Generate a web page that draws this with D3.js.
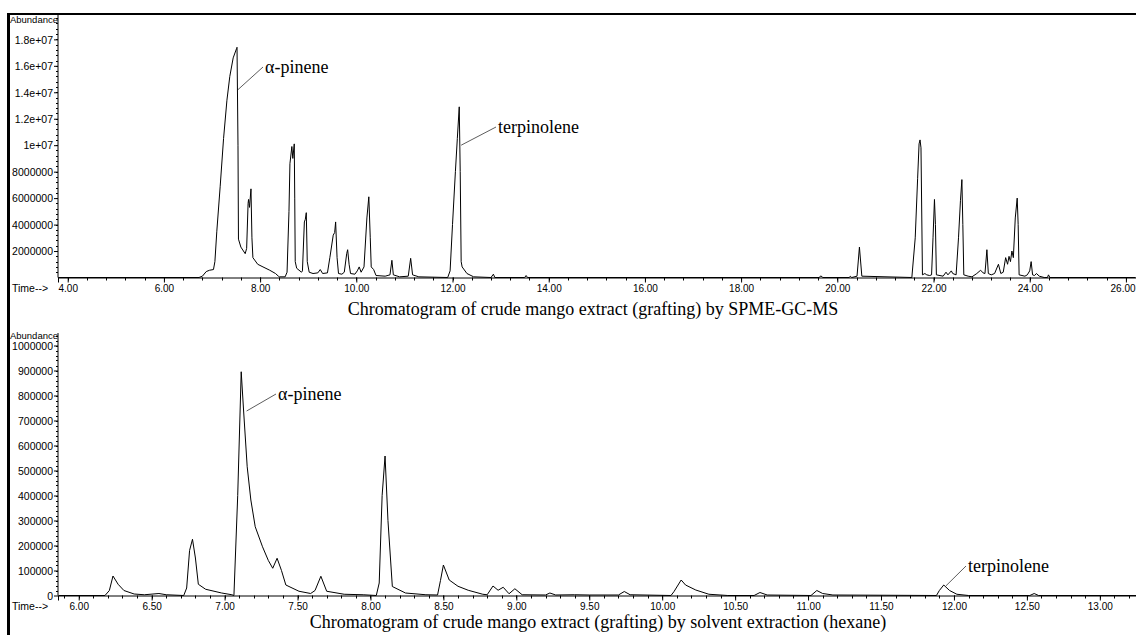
<!DOCTYPE html>
<html>
<head>
<meta charset="utf-8">
<script src="https://cdn.jsdelivr.net/npm/d3@7"></script>
<style>
    body { margin: 0; background: #fff; }
    svg { display: block; }
    .tick-label { font-family: "Liberation Sans", Arial, sans-serif; font-size: 10.5px; fill: #000; }
    .x-label { font-size: 10px; }
    .small-label { font-family: "Liberation Sans", Arial, sans-serif; font-size: 9.5px; fill: #000; }
    .peak-label { font-family: "Liberation Serif", "Times New Roman", serif; font-size: 18px; fill: #000; }
    .title { font-family: "Liberation Serif", "Times New Roman", serif; font-size: 18px; fill: #000; }
</style>
</head>
<body>
<svg id="chart" width="1136" height="635"></svg>
<script>
//SPME-GC-MS run (time in min, abundance)
var spme_time = [3.80, 6.73, 6.80, 6.88, 6.95, 7.03, 7.06, 7.10, 7.17, 7.24, 7.31, 7.37, 7.44, 7.51, 7.52, 7.54, 7.55, 7.60, 7.69, 7.72,
    7.75, 7.76, 7.78, 7.81, 7.83, 7.85, 7.95, 8.06, 8.20, 8.32, 8.38, 8.40, 8.52, 8.56, 8.60, 8.62, 8.66, 8.68, 8.71, 8.72,
    8.73, 8.76, 8.86, 8.88, 8.92, 8.94, 8.96, 8.98, 9.02, 9.10, 9.20, 9.25, 9.30, 9.40, 9.45, 9.52, 9.55, 9.57, 9.60, 9.63,
    9.70, 9.75, 9.80, 9.82, 9.85, 9.88, 9.97, 10.02, 10.06, 10.10, 10.16, 10.22, 10.26, 10.29, 10.31, 10.36, 10.41, 10.60, 10.70, 10.74,
    10.77, 10.90, 11.08, 11.13, 11.17, 11.30, 11.90, 11.95, 12.00, 12.06, 12.10, 12.14, 12.16, 12.18, 12.20, 12.30, 12.44, 12.80, 12.85, 12.88,
    13.50, 13.53, 13.56, 19.62, 19.66, 19.70, 20.25, 20.27, 20.30, 20.41, 20.46, 20.51, 21.55, 21.62, 21.67, 21.70, 21.72, 21.74, 21.77, 21.82,
    21.86, 21.92, 21.96, 21.99, 22.02, 22.04, 22.06, 22.20, 22.26, 22.30, 22.37, 22.40, 22.47, 22.52, 22.56, 22.59, 22.61, 22.63, 22.72, 22.80,
    22.90, 22.98, 23.03, 23.07, 23.11, 23.14, 23.20, 23.27, 23.35, 23.40, 23.45, 23.50, 23.54, 23.57, 23.60, 23.63, 23.66, 23.70, 23.74, 23.76,
    23.78, 23.90, 23.95, 24.00, 24.03, 24.06, 24.10, 24.14, 24.20, 24.30, 24.37, 24.39, 24.42, 26.20];
var spme_abundance = [0, 0, 100000, 450000, 550000, 600000, 1200000, 3500000, 6900000, 10500000, 13400000, 15200000, 16600000, 17300000, 17400000, 10000000, 2900000, 2300000, 1800000, 2200000,
    5600000, 5900000, 5300000, 6700000, 3000000, 1500000, 1000000, 800000, 550000, 300000, 100000, 50000, 50000, 400000, 5000000, 8600000, 9900000, 9000000, 10100000, 6000000,
    1200000, 700000, 400000, 500000, 4200000, 4400000, 4900000, 1200000, 400000, 300000, 350000, 600000, 300000, 350000, 1500000, 3200000, 3400000, 4200000, 1500000, 300000,
    250000, 400000, 1800000, 2100000, 1000000, 300000, 250000, 500000, 800000, 400000, 800000, 4500000, 6100000, 3000000, 800000, 600000, 150000, 100000, 200000, 1300000,
    200000, 50000, 100000, 1450000, 200000, 50000, 0, 500000, 4000000, 8000000, 10500000, 12900000, 8000000, 1200000, 800000, 300000, 50000, 0, 250000, 0,
    0, 150000, 0, 0, 120000, 0, 0, 100000, 0, 100000, 2300000, 100000, 0, 3000000, 7500000, 10100000, 10400000, 9800000, 200000, 300000,
    200000, 150000, 200000, 3000000, 5900000, 4000000, 200000, 100000, 400000, 200000, 500000, 300000, 200000, 3000000, 5800000, 7400000, 4000000, 200000, 100000, 50000,
    300000, 550000, 350000, 300000, 2100000, 300000, 200000, 300000, 1000000, 300000, 400000, 1500000, 1000000, 1600000, 1200000, 2000000, 1500000, 4500000, 6000000, 4000000,
    200000, 100000, 200000, 500000, 1200000, 200000, 150000, 300000, 100000, 0, 0, 200000, 0, 0];

//Solvent extraction run (hexane)
var hexane_time = [5.86, 6.18, 6.21, 6.235, 6.27, 6.31, 6.38, 6.45, 6.55, 6.60, 6.72, 6.74, 6.76, 6.78, 6.80, 6.82, 6.87, 6.98, 7.05, 7.064,
    7.09, 7.114, 7.13, 7.155, 7.18, 7.21, 7.26, 7.30, 7.33, 7.36, 7.39, 7.42, 7.51, 7.59, 7.62, 7.66, 7.70, 7.82, 7.95, 8.04,
    8.06, 8.08, 8.10, 8.12, 8.15, 8.24, 8.38, 8.46, 8.48, 8.50, 8.54, 8.60, 8.67, 8.77, 8.80, 8.84, 8.875, 8.91, 8.95, 8.99,
    9.04, 9.20, 9.23, 9.27, 9.40, 9.50, 9.70, 9.74, 9.78, 10.06, 10.08, 10.13, 10.16, 10.23, 10.32, 10.45, 10.63, 10.67, 10.72, 11.02,
    11.06, 11.10, 11.17, 11.88, 11.90, 11.93, 11.97, 12.02, 12.10, 12.52, 12.55, 12.58, 13.25];
var hexane_abundance = [0, 0, 20000, 78000, 45000, 20000, 6000, 3000, 8000, 3000, 0, 30000, 180000, 225000, 150000, 45000, 25000, 10000, 3000, 0,
    400000, 895000, 742000, 515000, 382000, 275000, 195000, 140000, 109000, 149000, 100000, 42000, 17000, 8000, 20000, 77000, 17000, 5000, 3000, 0,
    50000, 400000, 558000, 300000, 36000, 10000, 3000, 2000, 60000, 122000, 62000, 37000, 21000, 5000, 3000, 38000, 21000, 33000, 7000, 27000,
    3000, 2000, 10000, 2000, 3000, 2000, 2000, 16000, 3000, 0, 15000, 62000, 42000, 22000, 5000, 0, 0, 12000, 2000, 0,
    20000, 8000, 2000, 0, 20000, 42000, 20000, 5000, 0, 0, 8000, 0, 0];

//Axes
var spme_ticks = [4, 6, 8, 10, 12, 14, 16, 18, 20, 22, 24, 26];
var spme_yticks = [2e6, 4e6, 6e6, 8e6, 1e7, 1.2e7, 1.4e7, 1.6e7, 1.8e7];
var spme_ylabels = ["2000000", "4000000", "6000000", "8000000", "1e+07", "1.2e+07", "1.4e+07", "1.6e+07", "1.8e+07"];
var hexane_ticks = [6, 6.5, 7, 7.5, 8, 8.5, 9, 9.5, 10, 10.5, 11, 11.5, 12, 12.5, 13];
var hexane_yticks = [0, 1e5, 2e5, 3e5, 4e5, 5e5, 6e5, 7e5, 8e5, 9e5, 1e6];

//Labels (t, v = point on the trace the leader points at)
var spme_peaks = [{ name: "α-pinene", t: 7.54, v: 14.2e6, tx: 265, ty: 73 }, { name: "terpinolene", t: 12.18, v: 10.0e6, tx: 498, ty: 133 }];
var hexane_peaks = [{ name: "α-pinene", t: 7.151, v: 738000, tx: 278, ty: 400 }, { name: "terpinolene", t: 11.944, v: 38000, tx: 968, ty: 572 }];
var titles = ["Chromatogram of crude mango extract (grafting) by SPME-GC-MS",
    "Chromatogram of crude mango extract (grafting) by solvent extraction (hexane)"];

var svg = d3.select("#chart");
var W = 1136;

//frame
svg.append("rect").attr("x", 7).attr("y", 13).attr("width", W - 7).attr("height", 2).attr("fill", "#000");
svg.append("rect").attr("x", 7).attr("y", 13).attr("width", 3).attr("height", 622).attr("fill", "#000");

function draw_panel(p) {
    var x = d3.scaleLinear().domain(p.xdomain).range([58, W]);
    var y = d3.scaleLinear().domain([0, p.ymax]).range([p.y0, p.y0 - p.ypx * p.ymax]);
    var g = svg.append("g");

    // y axis
    var ya = d3.axisLeft(y).tickValues(p.yticks).tickSize(4).tickPadding(1)
        .tickFormat(function (d, i) { return p.ylabels ? p.ylabels[i] : String(d); });
    var yg = g.append("g").attr("transform", "translate(58,0)").call(ya);
    yg.select(".domain").attr("d", `M0,${p.ytop}V${p.y0}`);
    yg.selectAll("text").attr("class", "tick-label").attr("font-family", null).attr("font-size", null).attr("dy", "0.36em");
    var yminor = d3.range(p.yminor, y.invert(p.ytop), p.yminor);
    g.append("g").selectAll("line").data(yminor).enter().append("line")
        .attr("x1", 56).attr("x2", 58).attr("y1", (d) => Math.round(y(d)) + 0.5).attr("y2", (d) => Math.round(y(d)) + 0.5)
        .attr("stroke", "#000");
    g.append("text").attr("class", "small-label").attr("x", 58).attr("y", p.abund_y).attr("text-anchor", "end").text("Abundance");

    // x axis
    var xa = d3.axisBottom(x).tickValues(p.xticks).tickSize(5).tickPadding(2).tickFormat(d3.format(".2f"));
    var xg = g.append("g").attr("transform", `translate(0,${p.y0})`).call(xa);
    xg.selectAll("text").attr("class", "tick-label x-label").attr("font-family", null).attr("font-size", null)
        .each(function () {
            // keep the last label inside the picture
            var b = this.getBBox();
            var tx = this.parentNode.transform.baseVal.consolidate().matrix.e;
            if (tx + b.x + b.width > W) d3.select(this).attr("x", W - (tx + b.x + b.width));
        });
    var xminor = d3.range(Math.ceil(p.xdomain[0] / p.xstep), Math.floor(p.xdomain[1] / p.xstep) + 1).map((k) => k * p.xstep);
    g.append("g").selectAll("line").data(xminor).enter().append("line")
        .attr("x1", (d) => Math.round(x(d)) + 0.5).attr("x2", (d) => Math.round(x(d)) + 0.5)
        .attr("y1", p.y0).attr("y2", p.y0 + 3).attr("stroke", "#000");
    g.append("text").attr("class", "tick-label").attr("x", 12).attr("y", p.y0 + 14).text("Time-->");

    // trace
    var pts = p.time.map((t, i) => [t, p.abundance[i]]);
    var line = d3.line().x((d) => x(d[0])).y((d) => y(d[1]));
    g.append("path").datum(pts).attr("d", line).attr("fill", "none")
        .attr("stroke", "#000").attr("stroke-width", 1).attr("stroke-linejoin", "round");

    // peak names
    p.peaks.forEach(function (d) {
        g.append("line").attr("x1", d.tx - 2).attr("y1", d.ty - 6).attr("x2", x(d.t)).attr("y2", y(d.v))
            .attr("stroke", "#333").attr("stroke-width", 0.8);
        g.append("text").attr("class", "peak-label").attr("x", d.tx).attr("y", d.ty).text(d.name);
    });

    g.append("text").attr("class", "title").attr("x", p.tcx).attr("y", p.ty).attr("text-anchor", "middle").text(p.title);
}

draw_panel({
    time: spme_time, abundance: spme_abundance, xdomain: [3.798, 26.21], xticks: spme_ticks, xstep: 0.4,
    y0: 277.5, ypx: 26.46 / 2e6, ymax: 1.8e7 + 25 * 2e6 / 26.46, ytop: 15, abund_y: 23, yticks: spme_yticks, ylabels: spme_ylabels, yminor: 4e5,
    peaks: spme_peaks, title: titles[0], tcx: 593, ty: 315
});
draw_panel({
    time: hexane_time, abundance: hexane_abundance, xdomain: [5.858, 13.248], xticks: hexane_ticks, xstep: 0.1,
    y0: 595.5, ypx: 250 / 1e6, ymax: 1.05e6, ytop: 333, abund_y: 338.5, yticks: hexane_yticks, ylabels: null, yminor: 20000,
    peaks: hexane_peaks, title: titles[1], tcx: 598, ty: 628
});
</script>
</body>
</html>
